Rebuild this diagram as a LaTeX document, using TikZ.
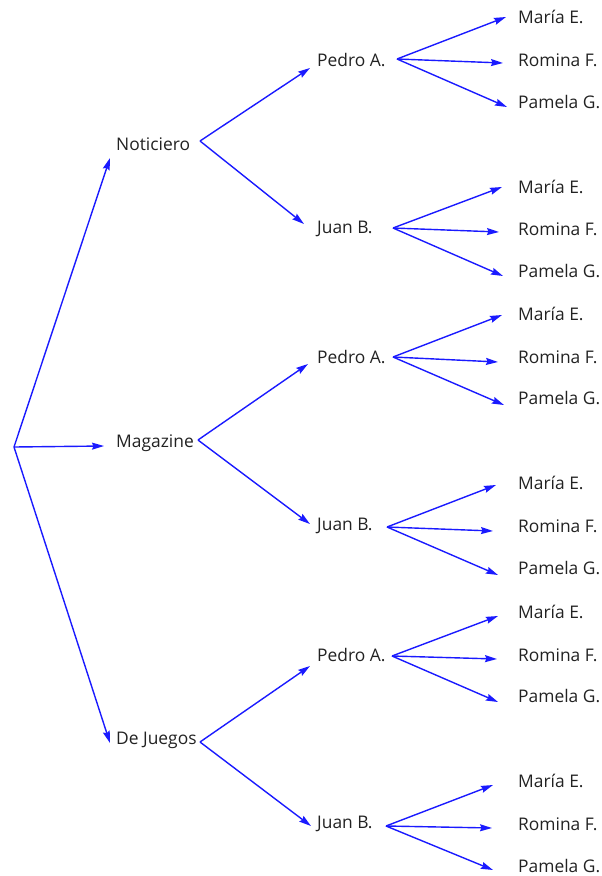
\documentclass[tikz,border=0pt]{standalone}
\usepackage{fontspec}
\setmainfont{Open Sans}
\usetikzlibrary{arrows.meta}
\definecolor{txt}{HTML}{222222}
\definecolor{arr}{HTML}{1A1AFF}
\begin{document}
\begin{tikzpicture}[x=1pt,y=-1pt,
  lbl/.style={anchor=west,inner sep=0pt,text=txt,font=\fontsize{17.4}{20}\selectfont},
  conn/.style={draw=arr,line width=1.4pt,-{Stealth[length=12pt,width=7pt,inset=1.5pt]}}]
\useasboundingbox (0,0) rectangle (602,876);
% level 1
\coordinate (r) at (14,447);
\node[lbl] (n) at (116,144) {Noticiero};
\node[lbl] (m) at (116,443) {Magazine};
\node[lbl] (d) at (116,740) {De Juegos};
\coordinate (nt) at (110,158);
\coordinate (mt) at (104,446);
\coordinate (dt) at (110,743);
\draw[conn] (r) -- (nt);
\draw[conn] (r) -- (mt);
\draw[conn] (r) -- (dt);
% level 2 starts
\coordinate (ns) at (200,141);
\coordinate (ms) at (198,440);
\coordinate (ds) at (200,742);
% level 2 nodes
\node[lbl] (np) at (317,60) {Pedro A.};
\node[lbl] (nj) at (317,229) {Juan B.};
\node[lbl] (mp) at (317,357) {Pedro A.};
\node[lbl] (mj) at (317,526) {Juan B.};
\node[lbl] (dp) at (317,655) {Pedro A.};
\node[lbl] (dj) at (317,824) {Juan B.};
\coordinate (npt) at (310,68);
\coordinate (njt) at (304,224);
\coordinate (mpt) at (308,364);
\coordinate (mjt) at (310,524);
\coordinate (dpt) at (310,666);
\coordinate (djt) at (311,826);
\draw[conn] (ns) -- (npt);
\draw[conn] (ns) -- (njt);
\draw[conn] (ms) -- (mpt);
\draw[conn] (ms) -- (mjt);
\draw[conn] (ds) -- (dpt);
\draw[conn] (ds) -- (djt);
% level 3 starts
\coordinate (nps) at (397,59);
\coordinate (njs) at (393,228);
\coordinate (mps) at (393,357);
\coordinate (mjs) at (387,527);
\coordinate (dps) at (392,656);
\coordinate (djs) at (386,826);
% leaves: Noticiero / Pedro
\node[lbl] (npa) at (518,17) {María E.};
\node[lbl] (npb) at (518,60) {Romina F.};
\node[lbl] (npc) at (518,102) {Pamela G.};
\coordinate (npat) at (506,17);
\coordinate (npbt) at (503,63);
\coordinate (npct) at (507,107);
\draw[conn] (nps) -- (npat);
\draw[conn] (nps) -- (npbt);
\draw[conn] (nps) -- (npct);
% Noticiero / Juan
\node[lbl] (nja) at (518,187) {María E.};
\node[lbl] (njb) at (518,229) {Romina F.};
\node[lbl] (njc) at (518,271) {Pamela G.};
\coordinate (njat) at (502,187);
\coordinate (njbt) at (499,232);
\coordinate (njct) at (503,276);
\draw[conn] (njs) -- (njat);
\draw[conn] (njs) -- (njbt);
\draw[conn] (njs) -- (njct);
% Magazine / Pedro
\node[lbl] (mpa) at (518,314) {María E.};
\node[lbl] (mpb) at (518,357) {Romina F.};
\node[lbl] (mpc) at (518,398) {Pamela G.};
\coordinate (mpat) at (502,315);
\coordinate (mpbt) at (498,362);
\coordinate (mpct) at (504,405);
\draw[conn] (mps) -- (mpat);
\draw[conn] (mps) -- (mpbt);
\draw[conn] (mps) -- (mpct);
% Magazine / Juan
\node[lbl] (mja) at (518,483) {María E.};
\node[lbl] (mjb) at (518,526) {Romina F.};
\node[lbl] (mjc) at (518,568) {Pamela G.};
\coordinate (mjat) at (496,485);
\coordinate (mjbt) at (493,531);
\coordinate (mjct) at (498,575);
\draw[conn] (mjs) -- (mjat);
\draw[conn] (mjs) -- (mjbt);
\draw[conn] (mjs) -- (mjct);
% De Juegos / Pedro
\node[lbl] (dpa) at (518,612) {María E.};
\node[lbl] (dpb) at (518,655) {Romina F.};
\node[lbl] (dpc) at (518,696) {Pamela G.};
\coordinate (dpat) at (498,616);
\coordinate (dpbt) at (497,659);
\coordinate (dpct) at (498,702);
\draw[conn] (dps) -- (dpat);
\draw[conn] (dps) -- (dpbt);
\draw[conn] (dps) -- (dpct);
% De Juegos / Juan
\node[lbl] (dja) at (518,781) {María E.};
\node[lbl] (djb) at (518,824) {Romina F.};
\node[lbl] (djc) at (518,866) {Pamela G.};
\coordinate (djat) at (493,785);
\coordinate (djbt) at (492,828);
\coordinate (djct) at (493,870);
\draw[conn] (djs) -- (djat);
\draw[conn] (djs) -- (djbt);
\draw[conn] (djs) -- (djct);
\end{tikzpicture}
\end{document}
